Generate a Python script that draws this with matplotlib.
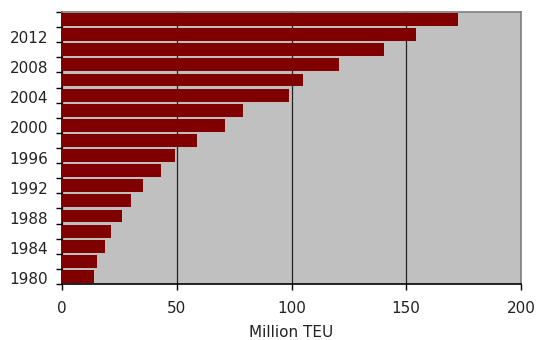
import matplotlib.pyplot as plt
import matplotlib.transforms as mtransforms
import numpy as np

# container throughput, million TEU, every second year
years = [1980, 1982, 1984, 1986, 1988, 1990, 1992, 1994, 1996,
         1998, 2000, 2002, 2004, 2006, 2008, 2010, 2012, 2014]
teu = [13.9, 15.3, 18.7, 21.4, 26.1, 30.1, 35.3, 43.1, 49.2,
       58.8, 71.0, 78.9, 99.0, 105.0, 120.7, 140.3, 154.2, 172.5]
label_years = [1980, 1984, 1988, 1992, 1996, 2000, 2004, 2008, 2012]

fig = plt.figure(figsize=(5.36, 3.40), dpi=100)
ax = fig.add_axes([0.1157, 0.1647, 0.972 - 0.1157, 0.9647 - 0.1647])
ax.set_facecolor('#c0c0c0')

pos = np.arange(len(years))
ax.barh(pos, teu, height=0.86, color='#800000', zorder=3)

ax.set_xlim(0, 200)
ax.set_ylim(-0.5, len(years) - 0.5)
ax.set_xticks([0, 50, 100, 150, 200])
ax.xaxis.grid(True, color='#222222', linewidth=0.9, zorder=1)

ax.set_yticks([years.index(y) for y in label_years])
ax.set_yticklabels([str(y) for y in label_years])
ax.set_yticks(np.arange(-0.5, len(years)), minor=True)
ax.tick_params(axis='y', which='major', length=0, pad=10, labelsize=11,
               labelcolor='#222222')
ax.tick_params(axis='y', which='minor', length=4, width=1, direction='out')
ax.tick_params(axis='x', length=4, width=1, pad=8, labelsize=11,
               labelcolor='#222222')

# nudge the year labels down a touch
shift = mtransforms.ScaledTranslation(0, -2 / 100, fig.dpi_scale_trans)
for lab in ax.get_yticklabels():
    lab.set_transform(lab.get_transform() + shift)

for s in ['top', 'right']:
    ax.spines[s].set_color('#808080')
    ax.spines[s].set_linewidth(1.2)
for s in ['left', 'bottom']:
    ax.spines[s].set_color('black')
    ax.spines[s].set_linewidth(1.2)

ax.set_xlabel('Million TEU', fontsize=11, color='#222222', labelpad=7)

fig.savefig('out.png', dpi=100)
